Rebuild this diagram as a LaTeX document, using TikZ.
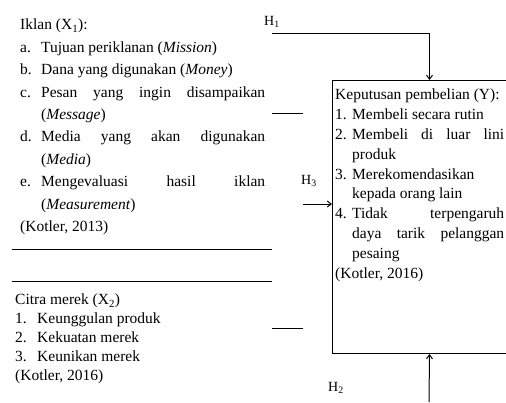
\documentclass[tikz,border=0pt]{standalone}
\usepackage{fontspec}
\setmainfont{Liberation Serif}
\usetikzlibrary{arrows.meta,positioning}
\newlength\itmind
\newcommand{\itm}[2]{\par\noindent\hangindent=\itmind\hangafter=1\makebox[\itmind][l]{#1}#2}

\begin{document}
\begin{tikzpicture}[x=1pt,y=-1pt,
   wire/.style={draw=black,line width=1pt},
   arr/.style={wire,-{Straight Barb[length=4pt,width=6pt]}},
   blk/.style={inner sep=0pt,text width=#1,align=justify,anchor=north west},
   hlab/.style={inner sep=0pt,font=\fontsize{14}{16}\selectfont}]
  \useasboundingbox (0,0) rectangle (506,402);
  % variabel iklan
  \node[blk=245pt,font=\fontsize{15.5}{22.4}\selectfont] (iklan) at (20,19) {%
    \setlength\itmind{21pt}%
    Iklan (X\textsubscript{1}):
    \itm{a.}{Tujuan periklanan (\textit{Mission})}
    \itm{b.}{Dana yang digunakan (\textit{Money})}
    \itm{c.}{Pesan yang ingin disampaikan\linebreak (\textit{Message})}
    \itm{d.}{Media yang akan digunakan\linebreak (\textit{Media})}
    \itm{e.}{Mengevaluasi hasil iklan\linebreak (\textit{Measurement})}
    \par\noindent(Kotler, 2013)};
  % variabel citra merek
  \node[blk=245pt,font=\fontsize{15.5}{19}\selectfont] (citra) at (15,294) {%
    \setlength\itmind{22pt}%
    Citra merek (X\textsubscript{2})
    \itm{1.}{Keunggulan produk}
    \itm{2.}{Kekuatan merek}
    \itm{3.}{Keunikan merek}
    \par\noindent(Kotler, 2016)};
  % variabel keputusan pembelian
  \node[draw,line width=1pt,minimum width=194pt,minimum height=273pt,
        anchor=north west,inner sep=0pt] (ybox) at (332,80) {};
  \node[blk=169pt,font=\fontsize{15.5}{19.8}\selectfont] (ytext) at (335,89) {%
    \setlength\itmind{17pt}%
    Keputusan pembelian (Y):
    \itm{1.}{Membeli secara rutin}
    \itm{2.}{Membeli di luar lini\linebreak produk}
    \itm{3.}{Merekomendasikan\linebreak kepada orang lain}
    \itm{4.}{Tidak terpengaruh\linebreak daya tarik pelanggan\linebreak pesaing}
    \par\noindent(Kotler, 2016)};
  % garis dan panah hipotesis
  \coordinate (h1s) at (272,33);
  \coordinate (h2s) at (429,402);
  \coordinate (h3s) at (303,204);
  \draw[arr] (h1s) -| (ybox.north);
  \draw[arr] (h2s) -- (ybox.south);
  \draw[arr] (h3s) -- (h3s -| ybox.west);
  \draw[wire] (272,113) -- (303,113);
  \draw[wire] (272,328) -- (303,328);
  \draw[wire] (12,249) -- (272,249);
  \draw[wire] (12,281) -- (272,281);
  \node[hlab] (h1) at (272,22) {H\textsubscript{1}};
  \node[hlab] (h3) at (309,181) {H\textsubscript{3}};
  \node[hlab] (h2) at (336,388) {H\textsubscript{2}};
\end{tikzpicture}
\end{document}
